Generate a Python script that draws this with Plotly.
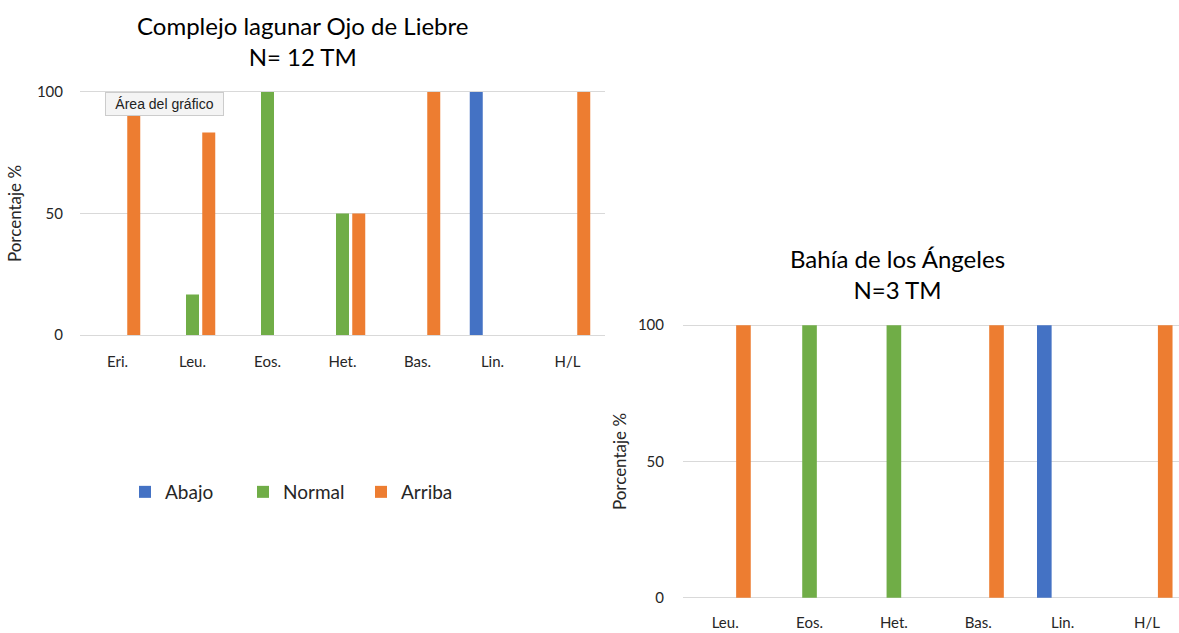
import plotly.graph_objects as go

# ---- data ----
series_names = ["Abajo", "Normal", "Arriba"]
series_colors = ["#4472C4", "#70AD47", "#ED7D31"]

ojo_categories = ["Eri.", "Leu.", "Eos.", "Het.", "Bas.", "Lin.", "H/L"]
ojo_abajo = [None, None, None, None, None, 100, None]
ojo_normal = [None, 16.7, 100, 50, None, None, None]
ojo_arriba = [100, 83.3, None, 50, 100, None, 100]

bahia_categories = ["Leu.", "Eos.", "Het.", "Bas.", "Lin.", "H/L"]
bahia_abajo = [None, None, None, None, 100, None]
bahia_normal = [None, 100, 100, None, None, None]
bahia_arriba = [100, None, None, 100, None, 100]

y_ticks = [0, 50, 100]

FONT = "Lato"
TXT = "#262626"
W, H = 1179, 633

fig = go.Figure()

ojo_vals = [ojo_abajo, ojo_normal, ojo_arriba]
bahia_vals = [bahia_abajo, bahia_normal, bahia_arriba]
for name, color, vals in zip(series_names, series_colors, ojo_vals):
    fig.add_trace(go.Bar(x=ojo_categories, y=vals, name=name, marker_color=color,
                         marker_line_width=0, xaxis="x", yaxis="y", showlegend=True))
for name, color, vals in zip(series_names, series_colors, bahia_vals):
    fig.add_trace(go.Bar(x=bahia_categories, y=vals, name=name, marker_color=color,
                         marker_line_width=0, xaxis="x2", yaxis="y2", showlegend=False))

def px_x(p):
    return p / W

def px_y(p):
    return 1 - p / H

axis_common = dict(showline=False, zeroline=False, ticks="", automargin=False,
                   tickfont=dict(family=FONT, size=15, color=TXT))
ytitle = dict(text="Porcentaje %", font=dict(family=FONT, size=17, color=TXT))

fig.update_layout(
    width=W, height=H,
    paper_bgcolor="white", plot_bgcolor="white",
    margin=dict(l=0, r=0, t=0, b=0),
    barmode="group", bargap=0.35, bargroupgap=0.2,
    font=dict(family=FONT, color=TXT),
    xaxis=dict(domain=[px_x(80), px_x(605)], anchor="y", range=[-0.5, 6.5],
               showgrid=False, ticklabelstandoff=14, **axis_common),
    yaxis=dict(domain=[px_y(336.5), px_y(90.5)], anchor="x", range=[-0.6, 100.6],
               tickvals=y_ticks, showgrid=True, gridcolor="#d9d9d9", gridwidth=1,
               ticklabelstandoff=16, title=dict(standoff=10, **ytitle), **axis_common),
    xaxis2=dict(domain=[px_x(683), 1.0], anchor="y2", range=[-0.5, 5.38],
                showgrid=False, ticklabelstandoff=12, **axis_common),
    yaxis2=dict(domain=[px_y(599.5), px_y(323.5)], anchor="x2", range=[-0.6, 100.6],
                tickvals=y_ticks, showgrid=True, gridcolor="#d9d9d9", gridwidth=1,
                ticklabelstandoff=18, title=dict(standoff=6, **ytitle), **axis_common),
    legend=dict(orientation="h", x=px_x(125), y=px_y(492), yanchor="middle", xanchor="left",
                font=dict(family=FONT, size=19, color=TXT), entrywidth=73, entrywidthmode="pixels",
                bgcolor="rgba(0,0,0,0)"),
    annotations=[
        dict(text="Complejo lagunar Ojo de Liebre<br>N= 12 TM", x=px_x(302), y=px_y(41),
             xref="paper", yref="paper", showarrow=False, xanchor="center", yanchor="middle",
             font=dict(family=FONT, size=24, color="#000000")),
        dict(text="Bahía de los Ángeles<br>N=3 TM", x=px_x(897), y=px_y(274),
             xref="paper", yref="paper", showarrow=False, xanchor="center", yanchor="middle",
             font=dict(family=FONT, size=24, color="#000000")),
        dict(text="Área del gráfico", x=px_x(164.5), y=px_y(104),
             xref="paper", yref="paper", showarrow=False, xanchor="center", yanchor="middle",
             width=111, height=16,
             font=dict(family="Liberation Sans", size=14, color="#222222"),
             bgcolor="#f4f4f4", bordercolor="#cccccc", borderwidth=1, borderpad=3),
    ],
)

fig.write_html("out.html", config={"displayModeBar": False},
               post_script="document.body.style.margin='0';")
